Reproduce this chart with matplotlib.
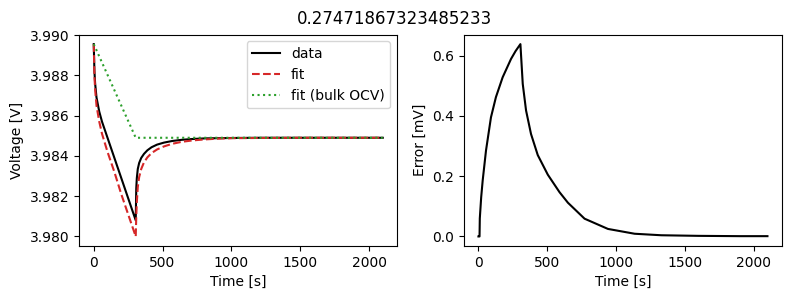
import numpy as np
import matplotlib.pyplot as plt

# ==========================================================
# Data
# ==========================================================

time = [0, 5, 10, 20, 40, 60, 100, 150, 200, 250, 305,
        309, 313, 320, 330, 345, 365, 390, 420, 460, 510, 570, 640,
        720, 810, 910, 1010, 1200, 1500, 1800, 2100]

voltage_data = [3.98955, 3.9882, 3.9876, 3.9869, 3.9862, 3.9857, 3.9849,
                3.9839, 3.9829, 3.9819, 3.9808,
                3.9824, 3.9829, 3.98335, 3.98365, 3.98390, 3.98410, 3.98428,
                3.98443, 3.98456, 3.98466, 3.98474, 3.98480,
                3.98484, 3.98487, 3.98488, 3.98489,
                3.98490, 3.98490, 3.98490, 3.98490]

voltage_fit = [3.98955, 3.9880, 3.9873, 3.9865, 3.9857, 3.9851, 3.9842,
               3.9832, 3.9821, 3.9811, 3.9800,
               3.9810, 3.9817, 3.98245, 3.98295, 3.98335, 3.98368, 3.98393,
               3.98414, 3.98432, 3.98447, 3.98460, 3.98470,
               3.98477, 3.98482, 3.98486, 3.98488,
               3.98489, 3.98490, 3.98490, 3.98490]

time_bulk = [0, 305, 2100]
voltage_bulk = [3.98955, 3.98490, 3.98490]

time_err = [0, 8, 10, 20, 31, 55, 91, 127, 176, 237, 270, 305,
            322, 346, 382, 431, 504, 589, 650, 771, 941, 1135,
            1329, 1600, 1900, 2100]
error_mv = [0.0, 0.0, 0.06, 0.13, 0.186, 0.285, 0.395, 0.462, 0.528, 0.589,
            0.615, 0.638, 0.506, 0.418, 0.340, 0.270, 0.205, 0.147, 0.112,
            0.059, 0.025, 0.009, 0.004, 0.002, 0.001, 0.001]

title = "0.27471867323485233"

# ==========================================================
# Plot
# ==========================================================

fig, axes = plt.subplots(1, 2, figsize=(7.89, 2.99), dpi=100)

ax = axes[0]
ax.plot(time, voltage_data, color="black", label="data")
ax.plot(time, voltage_fit, color="tab:red", linestyle="--", label="fit")
ax.plot(time_bulk, voltage_bulk, color="tab:green", linestyle=":",
        label="fit (bulk OCV)")
ax.set_xlabel("Time [s]")
ax.set_ylabel("Voltage [V]")
ax.legend()

ax = axes[1]
ax.plot(time_err, error_mv, color="black")
ax.set_xlabel("Time [s]")
ax.set_ylabel("Error [mV]")

fig.suptitle(title, y=0.965)
fig.subplots_adjust(left=0.1005, right=0.991, top=0.8846, bottom=0.177,
                    wspace=0.21)
plt.savefig("out.png")
